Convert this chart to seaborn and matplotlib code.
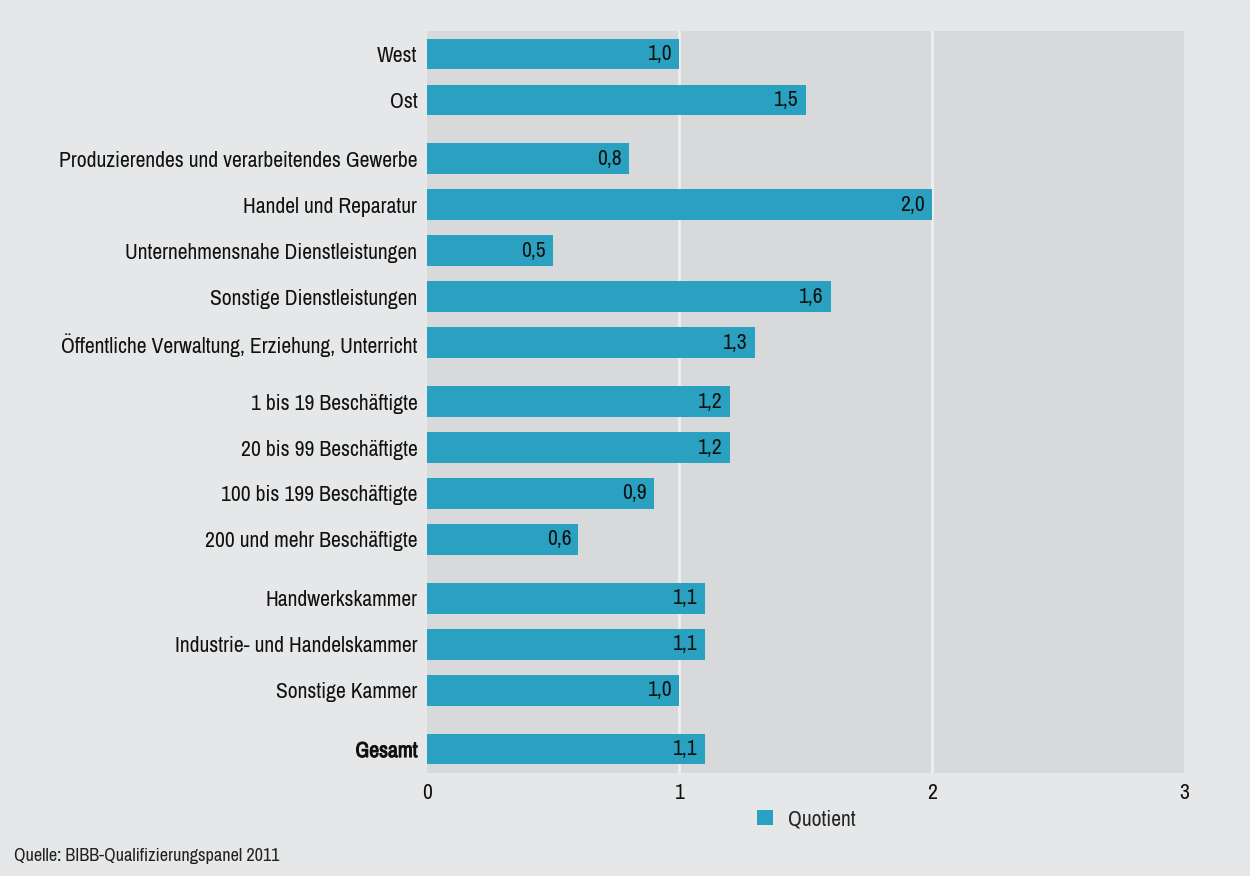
import matplotlib
matplotlib.use("Agg")
import matplotlib.pyplot as plt
from matplotlib import font_manager
from matplotlib.font_manager import FontProperties
import matplotlib.patheffects as pe
import seaborn as sns
import pandas as pd
import numpy as np
from matplotlib.patches import Patch

categories = [
    "West", "Ost",
    "Produzierendes und verarbeitendes Gewerbe", "Handel und Reparatur",
    "Unternehmensnahe Dienstleistungen", "Sonstige Dienstleistungen",
    "Öffentliche Verwaltung, Erziehung, Unterricht",
    "1 bis 19 Beschäftigte", "20 bis 99 Beschäftigte",
    "100 bis 199 Beschäftigte", "200 und mehr Beschäftigte",
    "Handwerkskammer", "Industrie- und Handelskammer", "Sonstige Kammer",
    "Gesamt",
]
groups = [0, 0, 1, 1, 1, 1, 1, 2, 2, 2, 2, 3, 3, 3, 4]
values = [1.0, 1.5, 0.8, 2.0, 0.5, 1.6, 1.3, 1.2, 1.2, 0.9, 0.6, 1.1, 1.1, 1.0, 1.1]
series_name = "Quotient"
x_ticks = [0, 1, 2, 3]
source = "Quelle: BIBB-Qualifizierungspanel 2011"

GAP = 0.28
pos = [i + g * GAP for i, g in enumerate(groups)]
df = pd.DataFrame({"cat": categories, "val": values, "pos": pos})

bar_color = "#2aa1c0"
outer_bg = "#e6e7e8"
inner_bg = "#d8d9db"
text_color = "#111111"

# pick a condensed family if one is installed
names = sorted({f.name for f in font_manager.fontManager.ttflist})
cond = [n for n in names if ("Condensed" in n or "Narrow" in n)]
if cond:
    family = cond[0]
    fs = 15.6
else:
    family = "Liberation Sans"
    fs = 12.2

def has_bold(fam):
    try:
        path = font_manager.findfont(FontProperties(family=fam, weight="bold"),
                                     fallback_to_default=False)
        return "bold" in path.lower()
    except Exception:
        return False

sns.set_theme(style="white")
plt.rcParams["font.family"] = [family, "DejaVu Sans"]

fig = plt.figure(figsize=(12.5, 8.76), dpi=100, facecolor=outer_bg)
ax = fig.add_axes([0.3416, 0.1176, 0.6056, 0.847])
ax.set_facecolor(inner_bg)

sns.barplot(data=df, x="val", y="pos", orient="h", native_scale=True,
            color=bar_color, saturation=1, width=0.67, linewidth=0,
            ax=ax, zorder=3)

ax.set_xlim(0, 3)
ax.set_ylim(pos[-1] + 0.52, pos[0] - 0.5)
for xv in x_ticks[1:-1]:
    ax.axvline(xv, color="#eeeff0", lw=2, zorder=1)
for s in ax.spines.values():
    s.set_visible(False)

ax.set_xticks(x_ticks)
ax.set_xticklabels([str(t) for t in x_ticks], fontsize=fs)
ax.set_yticks(pos)
ax.set_yticklabels(categories, fontsize=fs)
for lbl in ax.get_yticklabels():
    if lbl.get_text() == "Gesamt":
        if has_bold(family):
            lbl.set_fontweight("bold")
        else:
            lbl.set_path_effects([pe.withStroke(linewidth=0.7, foreground=text_color)])
ax.tick_params(axis="both", length=0, pad=7, colors=text_color)
ax.set_xlabel("")
ax.set_ylabel("")

for v, p in zip(values, pos):
    ax.text(v - 0.028, p, f"{v:.1f}".replace(".", ","), ha="right", va="center",
            fontsize=fs, color=text_color, zorder=4)

handles = [Patch(facecolor=bar_color, edgecolor="none", label=series_name)]
fig.legend(handles=handles, loc="center", bbox_to_anchor=(0.645, 0.065),
           frameon=False, fontsize=fs, handlelength=0.75, handleheight=0.75,
           handletextpad=0.7)

fig.text(0.011, 0.023, source, fontsize=fs * 0.84, color="#222222",
         ha="left", va="center")

fig.savefig("out.png", dpi=100, facecolor=outer_bg)
